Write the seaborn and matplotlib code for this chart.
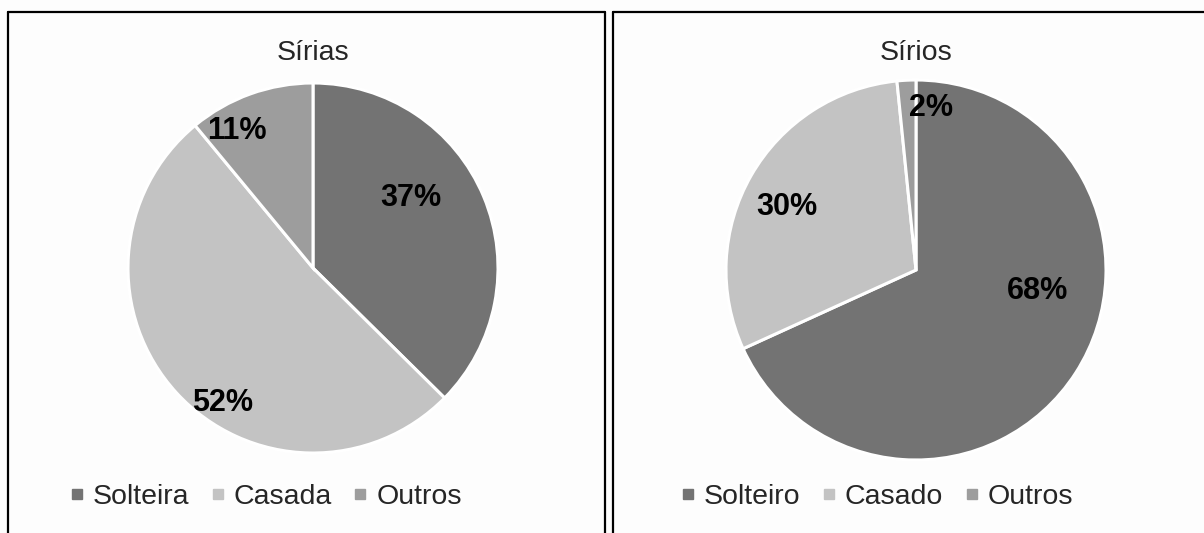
import matplotlib
matplotlib.use("Agg")
import matplotlib.pyplot as plt
import seaborn as sns
from matplotlib.lines import Line2D

sns.set_style("white")
plt.rcParams['font.family'] = ['Liberation Sans', 'DejaVu Sans']

# dados
categorias_f = ['Solteira', 'Casada', 'Outros']
valores_f = [37.4, 51.6, 11.0]
categorias_m = ['Solteiro', 'Casado', 'Outros']
valores_m = [68.2, 30.2, 1.6]
titulos = ['Sírias', 'Sírios']
cores = ['#737373', '#c3c3c3', '#9d9d9d']

# posicao dos rotulos (fracao do raio)
pos_rotulos_f = [(0.53, 0.38), (-0.49, -0.73), (-0.41, 0.74)]
pos_rotulos_m = [(0.64, -0.11), (-0.68, 0.33), (0.08, 0.85)]

W, H = 1204, 533
fig = plt.figure(figsize=(W / 100, H / 100), dpi=100)
fig.patch.set_facecolor('#fdfdfd')


def desenhar_pizza(cx, cy, r, valores, categorias, titulo, pos_rotulos, leg_cx):
    ax = fig.add_axes([(cx - r) / W, (H - cy - r) / H, 2 * r / W, 2 * r / H])
    wedges, textos, autotextos = ax.pie(
        valores, colors=cores, startangle=90, counterclock=False,
        autopct='%1.0f%%', radius=1,
        wedgeprops=dict(edgecolor='white', linewidth=2.2),
        textprops=dict(fontsize=22, fontweight='bold', color='black'))
    for t, (x, y) in zip(autotextos, pos_rotulos):
        t.set_position((x, y))
    ax.set_xlim(-1, 1)
    ax.set_ylim(-1, 1)
    ax.set_aspect('equal')
    ax.axis('off')
    fig.text(cx / W, 1 - 53 / H, titulo, ha='center', va='center', fontsize=20.5)
    handles = [Line2D([], [], marker='s', linestyle='none', markersize=6.5,
                      markerfacecolor=c, markeredgecolor=c) for c in cores]
    fig.legend(handles, categorias, loc='center', ncol=3,
               bbox_to_anchor=(leg_cx / W, 1 - 497 / H), frameon=False,
               fontsize=20.5, handlelength=0.5, handletextpad=0.3,
               columnspacing=0.75)
    return ax


desenhar_pizza(313, 268, 185, valores_f, categorias_f, titulos[0],
               pos_rotulos_f, 266)
desenhar_pizza(916, 270, 190, valores_m, categorias_m, titulos[1],
               pos_rotulos_m, 877)

# molduras dos paineis
def linha(x0, y0, x1, y1):
    fig.add_artist(Line2D([x0 / W, x1 / W], [1 - y0 / H, 1 - y1 / H],
                          color='black', linewidth=1.6))


linha(8, 12, 605, 12)
linha(8, 12, 8, H + 5)
linha(605, 12, 605, H + 5)
linha(613, 12, W + 5, 12)
linha(613, 12, 613, H + 5)

fig.savefig('out.png', dpi=100, facecolor=fig.get_facecolor())
